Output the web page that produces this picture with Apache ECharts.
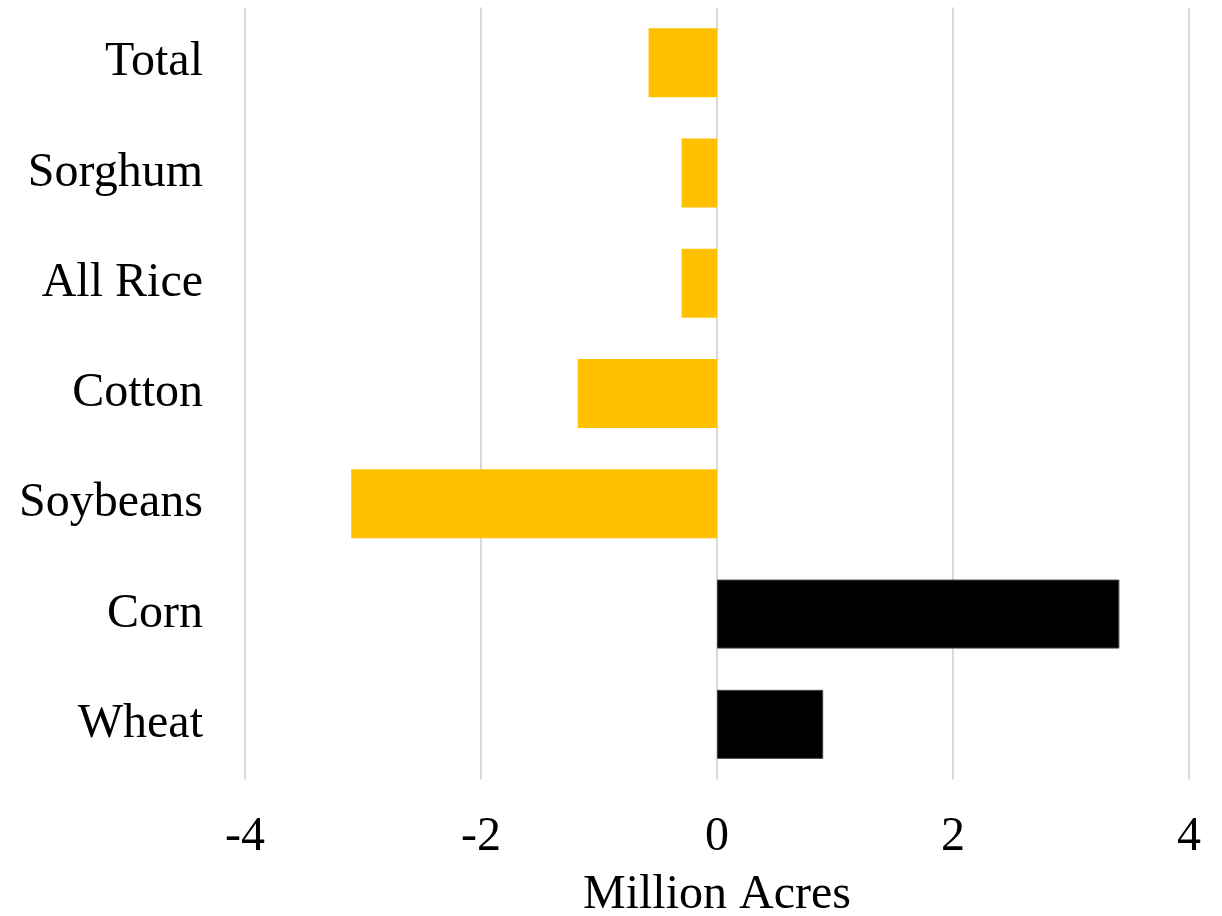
<!DOCTYPE html>
<html>
<head>
<meta charset="utf-8">
<script src="https://cdn.jsdelivr.net/npm/echarts@6/dist/echarts.min.js"></script>
<style>
    html, body { margin: 0; padding: 0; background: #fff; }
    #chart { width: 1222px; height: 916px; }
</style>
</head>
<body>
<div id="chart"></div>
<script>
// top to bottom
const crops = ['Total', 'Sorghum', 'All Rice', 'Cotton', 'Soybeans', 'Corn', 'Wheat']
const acreChange = [-0.58, -0.30, -0.30, -1.18, -3.10, 3.41, 0.90]
const xTicks = [-4, -2, 0, 2, 4]

const fontFamily = '"Liberation Serif", "Times New Roman", serif'

const chart = echarts.init(document.getElementById('chart'))

const barData = acreChange.map((v) => ({
    value: v,
    itemStyle: v < 0
        ? { color: '#ffc000', borderWidth: 0 }
        : { color: '#000000', borderColor: '#404040', borderWidth: 1 },
}))

chart.setOption({
    animation: false,
    grid: {
        left: 245,
        right: 33,
        top: 7.5,
        bottom: 136.5,
        outerBoundsMode: 'none',
    },
    xAxis: {
        type: 'value',
        min: xTicks[0],
        max: xTicks[xTicks.length - 1],
        interval: 2,
        name: 'Million Acres',
        nameLocation: 'middle',
        nameGap: 92,
        nameTextStyle: {
            color: '#000',
            fontSize: 48,
            fontFamily,
        },
        axisLine: { show: false },
        axisTick: { show: false },
        axisLabel: {
            color: '#000',
            fontSize: 48,
            fontFamily,
            margin: 34,
        },
        splitLine: {
            lineStyle: {
                color: '#d9d9d9',
                width: 2,
            },
        },
    },
    yAxis: {
        type: 'category',
        inverse: true,
        data: crops,
        axisLine: { show: false },
        axisTick: { show: false },
        axisLabel: {
            color: '#000',
            fontSize: 48,
            fontFamily,
            margin: 42,
        },
    },
    series: [
        {
            type: 'bar',
            data: barData,
            barWidth: 69,
        },
    ],
})
</script>
</body>
</html>
